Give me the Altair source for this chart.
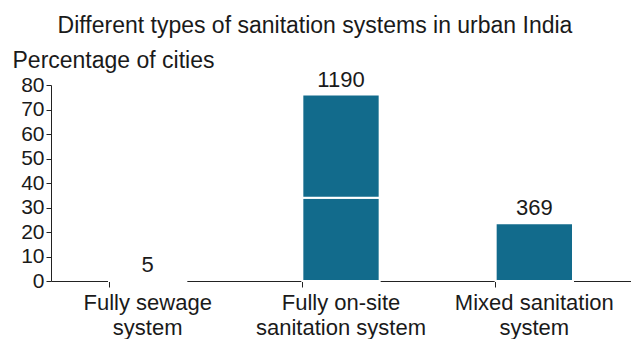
import altair as alt
import pandas as pd

categories = ["Fully sewage|system", "Fully on-site|sanitation system", "Mixed sanitation|system"]
seg_cat = ["Fully sewage|system", "Fully on-site|sanitation system", "Fully on-site|sanitation system", "Mixed sanitation|system"]
seg_order = [1, 1, 2, 1]
seg_vals = [0.32, 34.0, 42.1, 23.6]
totals = [0.32, 76.1, 23.6]
counts = ["5", "1190", "369"]
y_ticks = [0, 10, 20, 30, 40, 50, 60, 70, 80]

FONT = "Liberation Sans"
COLOR = "#126b8c"
TXT = "#1a1a1a"

bars_df = pd.DataFrame({"cat": seg_cat, "order": seg_order, "val": seg_vals})
lab_df = pd.DataFrame({"cat": categories, "val": totals, "count": counts})


def x_enc():
    return alt.X("cat:N", sort=categories, title=None,
                 scale=alt.Scale(paddingInner=0.6, paddingOuter=0.3),
                 axis=alt.Axis(labelExpr="split(datum.value, '|')", labelAngle=0,
                               labelFontSize=22, labelFont=FONT, labelColor=TXT,
                               labelLineHeight=25, labelPadding=5,
                               bandPosition=0, tickColor="#222", tickSize=6,
                               domainColor="#222", grid=False))


def y_enc(stack):
    return alt.Y("val:Q", stack=stack,
                 scale=alt.Scale(domain=[0, 80], nice=False),
                 axis=alt.Axis(values=y_ticks, labelOverlap=False,
                               title="Percentage of cities", titleAngle=0,
                               titleAlign="left", titleBaseline="bottom",
                               titleX=-39, titleY=-13, titleFont=FONT,
                               titleFontSize=23, titleFontWeight="normal", titleColor=TXT,
                               labelFont=FONT, labelFontSize=21, labelColor=TXT,
                               labelPadding=2, tickSize=5, tickColor="#222",
                               domainColor="#222", grid=False)),


bars = alt.Chart(bars_df).mark_bar(color=COLOR, stroke="white", strokeWidth=2).encode(
    x=x_enc(),
    y=y_enc("zero")[0],
    order="order:Q",
)

labels = alt.Chart(lab_df).mark_text(baseline="bottom", dy=-3, font=FONT,
                                     fontSize=22, color=TXT).encode(
    x=x_enc(),
    y=y_enc(None)[0],
    text="count:N",
)

chart = alt.layer(bars, labels).properties(
    width=580, height=196,
    padding={"left": 51, "top": 85, "right": 0, "bottom": 58},
    autosize=alt.AutoSizeParams(type="none"),
    title=alt.TitleParams("Different types of sanitation systems in urban India",
                          font=FONT, fontSize=23, fontWeight="normal", color=TXT,
                          anchor="middle", dx=-26, offset=11),
).configure_view(stroke=None)

chart.save("out.html", embed_options={"renderer": "svg", "actions": False})
